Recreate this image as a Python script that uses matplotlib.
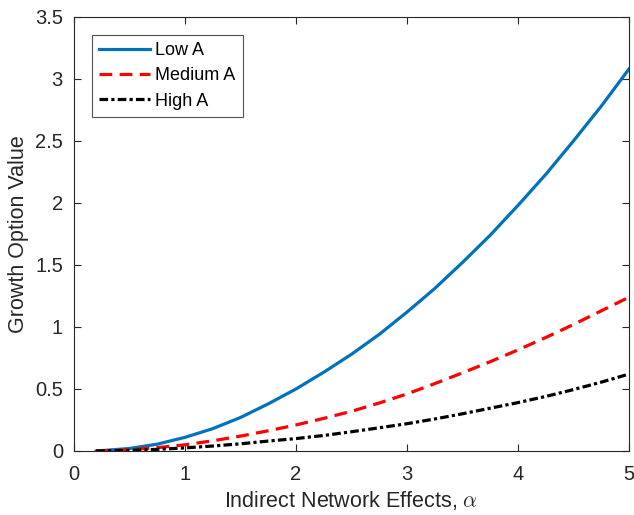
import matplotlib
matplotlib.use("Agg")
import matplotlib.pyplot as plt

plt.rcParams['font.family'] = ['Liberation Sans', 'DejaVu Sans']
plt.rcParams['mathtext.fontset'] = 'cm'

alpha = [0.2, 0.25, 0.5, 0.75, 1.0, 1.25, 1.5, 1.75, 2.0, 2.25, 2.5, 2.75,
         3.0, 3.25, 3.5, 3.75, 4.0, 4.25, 4.5, 4.75, 5.0]
low_a = [0.0, 0.003, 0.02, 0.055, 0.11, 0.18, 0.27, 0.38, 0.50, 0.635, 0.78, 0.94,
         1.12, 1.31, 1.52, 1.74, 1.98, 2.23, 2.50, 2.78, 3.08]
medium_a = [0.0, 0.001, 0.01, 0.027, 0.05, 0.082, 0.12, 0.163, 0.21, 0.263, 0.32, 0.387,
            0.46, 0.543, 0.63, 0.72, 0.815, 0.915, 1.02, 1.13, 1.24]
high_a = [0.0, 0.0005, 0.005, 0.013, 0.025, 0.04, 0.058, 0.08, 0.10, 0.125, 0.155, 0.187,
          0.22, 0.258, 0.30, 0.345, 0.39, 0.44, 0.495, 0.555, 0.62]

xticks = [0, 1, 2, 3, 4, 5]
yticks = [0, 0.5, 1, 1.5, 2, 2.5, 3, 3.5]
ytick_labels = ['0', '0.5', '1', '1.5', '2', '2.5', '3', '3.5']

fig = plt.figure(figsize=(6.34, 5.15), dpi=100)
ax = fig.add_axes([0.1167, 0.1243, 0.8753, 0.8427])

ax.plot(alpha, low_a, color='#0072BD', lw=2.3, linestyle='-', label='Low A')
ax.plot(alpha, medium_a, color='#FF0000', lw=2.3, linestyle=(0, (4, 2.3)), label='Medium A')
ax.plot(alpha, high_a, color='black', lw=2.3, linestyle=(0, (2.7, 1, 1, 1)), label='High A')

ax.set_xlim(0, 5)
ax.set_ylim(0, 3.5)
ax.set_xticks(xticks)
ax.set_yticks(yticks)
ax.set_yticklabels(ytick_labels)
ax.tick_params(direction='in', top=True, right=True, length=5, width=0.8,
               labelsize=14.5, colors='#262626')
ax.tick_params(axis='x', pad=10)
ax.tick_params(axis='y', pad=8)
for s in ax.spines.values():
    s.set_color('#262626')
    s.set_linewidth(0.8)

ax.set_xlabel(r'Indirect Network Effects, $\alpha$', fontsize=15.5, color='#262626', labelpad=4)
ax.set_ylabel('Growth Option Value', fontsize=15.5, color='#262626', labelpad=4)

leg = ax.legend(loc='upper left', fontsize=13, frameon=True, fancybox=False,
                handlelength=2.8, borderaxespad=1.0, handletextpad=0.3,
                labelspacing=0.45, borderpad=0.4)
leg.get_frame().set_edgecolor('#262626')
leg.get_frame().set_linewidth(0.8)

fig.savefig('out.png', dpi=100)
